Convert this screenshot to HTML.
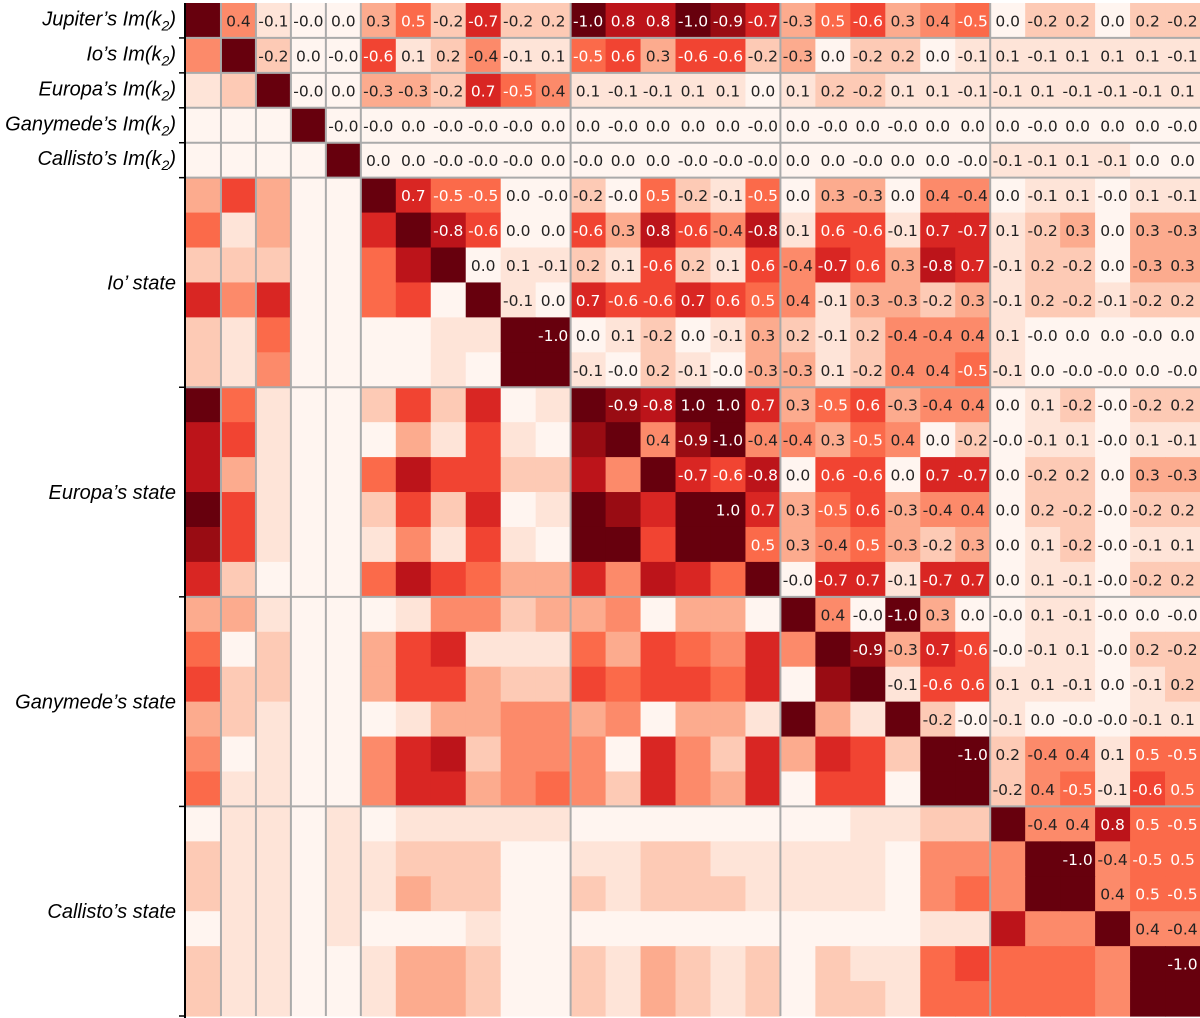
<!DOCTYPE html>
<html><head><meta charset="utf-8"><style>
html,body{margin:0;padding:0;background:#fff;width:1200px;height:1018px;overflow:hidden}
svg{display:block}
</style></head><body>
<svg id="chart" width="1200" height="1018"></svg>
<script>
const labels = ["Jupiter\u2019s Im(k2)","Io\u2019s Im(k2)","Europa\u2019s Im(k2)","Ganymede\u2019s Im(k2)","Callisto\u2019s Im(k2)"];
const groupLabels = ["Io\u2019 state","Europa\u2019s state","Ganymede\u2019s state","Callisto\u2019s state"];
const upperRows = [
"0.4 -0.1 -0.0 0.0 0.3 0.5 -0.2 -0.7 -0.2 0.2 -1.0 0.8 0.8 -1.0 -0.9 -0.7 -0.3 0.5 -0.6 0.3 0.4 -0.5 0.0 -0.2 0.2 0.0 0.2 -0.2",
"-0.2 0.0 -0.0 -0.6 0.1 0.2 -0.4 -0.1 0.1 -0.5 0.6 0.3 -0.6 -0.6 -0.2 -0.3 0.0 -0.2 0.2 0.0 -0.1 0.1 -0.1 0.1 0.1 0.1 -0.1",
"-0.0 0.0 -0.3 -0.3 -0.2 0.7 -0.5 0.4 0.1 -0.1 -0.1 0.1 0.1 0.0 0.1 0.2 -0.2 0.1 0.1 -0.1 -0.1 0.1 -0.1 -0.1 -0.1 0.1",
"-0.0 -0.0 0.0 -0.0 -0.0 -0.0 0.0 0.0 -0.0 0.0 0.0 0.0 -0.0 0.0 -0.0 0.0 -0.0 0.0 0.0 0.0 -0.0 0.0 0.0 0.0 -0.0",
"0.0 0.0 -0.0 -0.0 -0.0 0.0 -0.0 0.0 0.0 -0.0 -0.0 -0.0 0.0 0.0 -0.0 0.0 0.0 -0.0 -0.1 -0.1 0.1 -0.1 0.0 0.0",
"0.7 -0.5 -0.5 0.0 -0.0 -0.2 -0.0 0.5 -0.2 -0.1 -0.5 0.0 0.3 -0.3 0.0 0.4 -0.4 0.0 -0.1 0.1 -0.0 0.1 -0.1",
"-0.8 -0.6 0.0 0.0 -0.6 0.3 0.8 -0.6 -0.4 -0.8 0.1 0.6 -0.6 -0.1 0.7 -0.7 0.1 -0.2 0.3 0.0 0.3 -0.3",
"0.0 0.1 -0.1 0.2 0.1 -0.6 0.2 0.1 0.6 -0.4 -0.7 0.6 0.3 -0.8 0.7 -0.1 0.2 -0.2 0.0 -0.3 0.3",
"-0.1 0.0 0.7 -0.6 -0.6 0.7 0.6 0.5 0.4 -0.1 0.3 -0.3 -0.2 0.3 -0.1 0.2 -0.2 -0.1 -0.2 0.2",
"-1.0 0.0 0.1 -0.2 0.0 -0.1 0.3 0.2 -0.1 0.2 -0.4 -0.4 0.4 0.1 -0.0 0.0 0.0 -0.0 0.0",
"-0.1 -0.0 0.2 -0.1 -0.0 -0.3 -0.3 0.1 -0.2 0.4 0.4 -0.5 -0.1 0.0 -0.0 -0.0 0.0 -0.0",
"-0.9 -0.8 1.0 1.0 0.7 0.3 -0.5 0.6 -0.3 -0.4 0.4 0.0 0.1 -0.2 -0.0 -0.2 0.2",
"0.4 -0.9 -1.0 -0.4 -0.4 0.3 -0.5 0.4 0.0 -0.2 -0.0 -0.1 0.1 -0.0 0.1 -0.1",
"-0.7 -0.6 -0.8 0.0 0.6 -0.6 0.0 0.7 -0.7 0.0 -0.2 0.2 0.0 0.3 -0.3",
"1.0 0.7 0.3 -0.5 0.6 -0.3 -0.4 0.4 0.0 0.2 -0.2 -0.0 -0.2 0.2",
"0.5 0.3 -0.4 0.5 -0.3 -0.2 0.3 0.0 0.1 -0.2 -0.0 -0.1 0.1",
"-0.0 -0.7 0.7 -0.1 -0.7 0.7 0.0 0.1 -0.1 -0.0 -0.2 0.2",
"0.4 -0.0 -1.0 0.3 0.0 -0.0 0.1 -0.1 -0.0 0.0 -0.0",
"-0.9 -0.3 0.7 -0.6 -0.0 -0.1 0.1 -0.0 0.2 -0.2",
"-0.1 -0.6 0.6 0.1 0.1 -0.1 0.0 -0.1 0.2",
"-0.2 -0.0 -0.1 0.0 -0.0 -0.0 -0.1 0.1",
"-1.0 0.2 -0.4 0.4 0.1 0.5 -0.5",
"-0.2 0.4 -0.5 -0.1 -0.6 0.5",
"-0.4 0.4 0.8 0.5 -0.5",
"-1.0 -0.4 -0.5 0.5",
"0.4 0.5 -0.5",
"0.4 -0.4",
"-1.0"
];
const groupStarts = [5, 11, 17, 23, 29];

const N = 29, X0 = 186, Y0 = 3, W = 1014, H = 1013;
const cw = W / N, ch = H / N;
const xs = i => X0 + i * cw;
const ys = i => Y0 + i * ch;
const NS = "http://www.w3.org/2000/svg";
const svg = document.getElementById('chart');
function mk(t, a) { const e = document.createElementNS(NS, t); for (const k in a) e.setAttribute(k, a[k]); return e; }

const M = [];
for (let i = 0; i < N; i++) { M.push(new Array(N).fill(1)); }
upperRows.forEach((r, i) => {
  r.split(' ').forEach((s, k) => { const j = i + 1 + k; M[i][j] = s; M[j][i] = s; });
});

const stops = [[0,[255,245,240]],[0.125,[254,224,210]],[0.25,[252,187,161]],[0.375,[252,146,114]],[0.5,[251,106,74]],[0.625,[239,59,44]],[0.75,[203,24,29]],[0.875,[165,15,21]],[1,[103,0,13]]];
function reds(v) {
  v = Math.max(0, Math.min(1, v));
  for (let k = 0; k < stops.length - 1; k++) {
    const [a, ca] = stops[k], [b, cb] = stops[k + 1];
    if (v <= b) { const t = (v - a) / (b - a); return 'rgb(' + ca.map((c, q) => Math.round(c + (cb[q] - c) * t)).join(',') + ')'; }
  }
}

for (let i = 0; i < N; i++) for (let j = 0; j < N; j++) {
  const v = i === j ? 1 : Math.abs(parseFloat(M[i][j]));
  const r = mk('rect', { x: xs(j), y: ys(i), width: cw + 0.6, height: ch + 0.6, fill: reds(v) });
  
  
  svg.appendChild(r);
  if (j > i) {
    const t = mk('text', { x: xs(j) + cw / 2, y: ys(i) + ch / 2 + 6, 'text-anchor': 'middle', 'font-family': 'DejaVu Sans, sans-serif', 'font-size': '15.5', fill: v >= 0.5 ? '#fff' : '#222' });
    t.textContent = M[i][j];
    
    
    svg.appendChild(t);
  }
}
const lines = [1, 2, 3, 4, 5, 11, 17, 23];
lines.forEach(k => {
  const h = mk('line', { x1: X0, x2: X0 + W, y1: ys(k), y2: ys(k), stroke: '#aaa', 'stroke-width': 2 });
  
  
  svg.appendChild(h);
  const v = mk('line', { y1: Y0, y2: Y0 + H, x1: xs(k), x2: xs(k), stroke: '#aaa', 'stroke-width': 2 });
  
  
  svg.appendChild(v);
});
const ax = mk('line', { x1: X0 - 1, x2: X0 - 1, y1: Y0, y2: Y0 + H + 2, stroke: '#000', 'stroke-width': 2 });


svg.appendChild(ax);
[1, 2, 3, 4, 5, 11, 17, 23, 29].forEach(k => {
  const t = mk('line', { x1: X0 - 7, x2: X0 - 1, y1: ys(k), y2: ys(k), stroke: '#000', 'stroke-width': 1.5 });
  
  
  svg.appendChild(t);
});
function addLabel(txt, yc, name) {
  const m = txt.match(/^(.*)Im\(k2\)$/);
  const t = mk('text', { x: 176, y: yc + 7, 'text-anchor': 'end', 'font-family': 'Liberation Sans, sans-serif', 'font-size': '20', 'font-style': 'italic', fill: '#000' });
  if (m) {
    t.textContent = m[1] + 'Im(k';
    const s = mk('tspan', { 'font-size': '14', dy: '5' }); s.textContent = '2'; t.appendChild(s);
    const p = mk('tspan', { dy: '-5' }); p.textContent = ')'; t.appendChild(p);
  } else t.textContent = txt;
  
  
  svg.appendChild(t);
}
labels.forEach((l, i) => addLabel(l, ys(i) + ch / 2 - 2, 'row-label'));
groupLabels.forEach((l, g) => addLabel(l, (ys(groupStarts[g]) + ys(groupStarts[g + 1])) / 2, 'group-label'));
</script>
</body></html>
